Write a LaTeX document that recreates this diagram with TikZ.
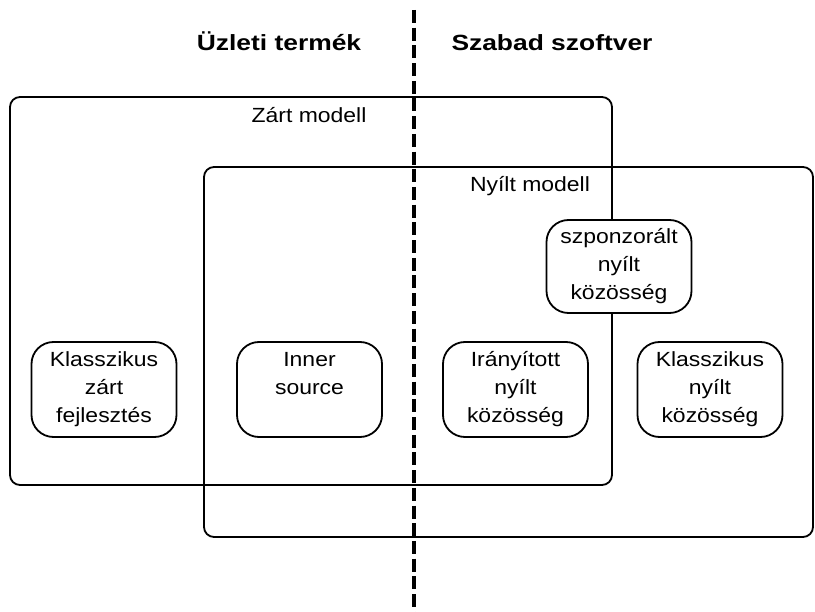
\documentclass[tikz,border=0pt]{standalone}
\usepackage{fontspec}
\setmainfont{Liberation Sans}[FakeStretch=1.12]
\newfontfamily\titlefont{Liberation Sans}[FakeStretch=1.2]
\begin{document}
\begin{tikzpicture}[x=1pt,y=-1pt,
  frame/.style={draw=black, line width=1.8pt, rounded corners=10pt, inner sep=0pt},
  itembox/.style={draw=black, fill=white, line width=1.8pt, rounded corners=22pt, inner sep=0pt,
    minimum width=145pt, minimum height=95pt, align=center, font=\fontsize{20.5}{28}\selectfont},
  lbl/.style={anchor=base, inner sep=0pt, font=\fontsize{20.5}{24}\selectfont},
  ttl/.style={anchor=base, inner sep=0pt, font=\titlefont\bfseries\fontsize{22}{26}\selectfont},
  divider/.style={draw=black, line width=3.6pt, dash pattern=on 13pt off 4.7pt}]
\useasboundingbox (0,0) rectangle (815,612);
\fill[white] (0,0) rectangle (815,612);
% frames
\node[frame, minimum width=602pt, minimum height=388pt] (closed) at (311,291) {};
\node[frame, minimum width=609pt, minimum height=370pt] (open) at (508.5,352) {};
% divider
\coordinate (dtop) at (414,10);
\coordinate (dbot) at (414,612);
\draw[divider] (dtop) -- (dbot);
% titles
\node[ttl] (biz) at (279,51) {Üzleti termék};
\node[ttl] (free) at (552,51) {Szabad szoftver};
\node[lbl] (closedlbl) at (309,123) {Zárt modell};
\node[lbl] (openlbl) at (530,192) {Nyílt modell};
% items
\node[itembox] (klzart) at (104,389.5) {Klasszikus\\zárt\\fejlesztés};
\node[itembox] (inner) at (309.5,389.5) {Inner\\source\\\phantom{közösség}};
\node[itembox] (iranyitott) at (515.5,389.5) {Irányított\\nyílt\\közösség};
\node[itembox] (klnyilt) at (710,389.5) {Klasszikus\\nyílt\\közösség};
\node[itembox, minimum height=93pt] (szponz) at (619,266.5) {szponzorált\\nyílt\\közösség};
\end{tikzpicture}
\end{document}
